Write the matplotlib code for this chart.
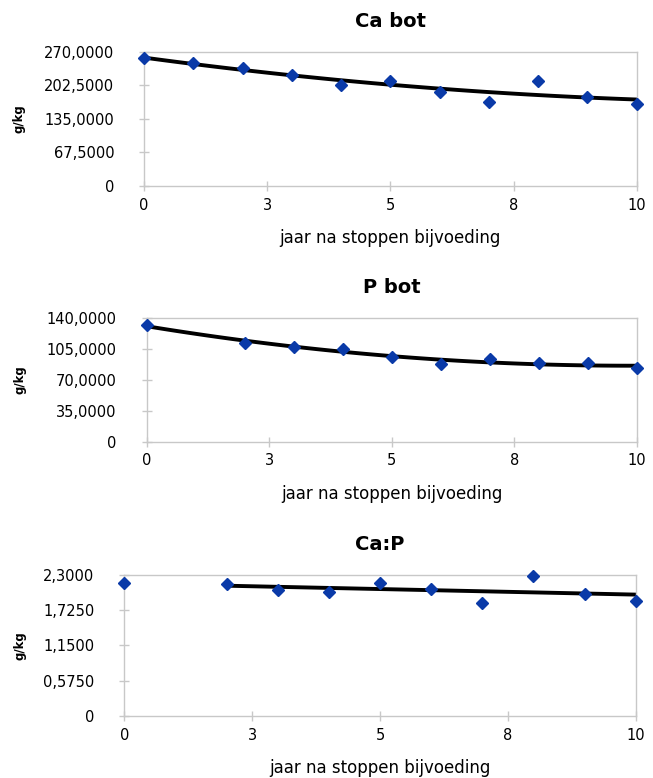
import numpy as np
import matplotlib
matplotlib.use('Agg')
import matplotlib.pyplot as plt

plt.rcParams['font.family'] = ['DejaVu Sans']

# jaren na stoppen bijvoeding
jaar_ca = [0, 1, 2, 3, 4, 5, 6, 7, 8, 9, 10]
ca_bot = [257.3, 247.0, 238.3, 223.6, 203.4, 212.0, 190.0, 169.6, 212.0, 179.7, 165.0]

jaar_p = [0, 2, 3, 4, 5, 6, 7, 8, 9, 10]
p_bot = [132.4, 112.3, 107.1, 104.8, 96.4, 88.2, 93.8, 88.9, 88.9, 83.3]

jaar_cap = [0, 2, 3, 4, 5, 6, 7, 8, 9, 10]
ca_p = [2.170, 2.149, 2.046, 2.018, 2.170, 2.072, 1.844, 2.279, 1.981, 1.877]

x_ticks = [0, 2.5, 5, 7.5, 10]
x_ticklabels = ['0', '3', '5', '8', '10']

ca_yticks = [0, 67.5, 135, 202.5, 270]
ca_yticklabels = ['0', '67,5000', '135,0000', '202,5000', '270,0000']
p_yticks = [0, 35, 70, 105, 140]
p_yticklabels = ['0', '35,0000', '70,0000', '105,0000', '140,0000']
cap_yticks = [0, 0.575, 1.15, 1.725, 2.3]
cap_yticklabels = ['0', '0,5750', '1,1500', '1,7250', '2,3000']

BLAUW = '#0a3aa8'
GRIJS = '#c8c8c8'


def opmaak(ax, titel, yticks, yticklabels, ylab_x):
    ax.set_xlim(0, 10)
    ax.set_ylim(yticks[0], yticks[-1])
    ax.set_xticks(x_ticks)
    ax.set_xticklabels(x_ticklabels)
    ax.set_yticks(yticks)
    ax.set_yticklabels(yticklabels)
    for s in ax.spines.values():
        s.set_color(GRIJS)
        s.set_linewidth(1.0)
    ax.tick_params(direction='inout', length=7, width=1.0, color=GRIJS,
                   labelsize=10.5, labelcolor='black')
    ax.tick_params(axis='y', pad=18)
    ax.tick_params(axis='x', pad=5)
    ax.set_title(titel, fontsize=14, fontweight='bold', pad=18)
    ax.set_ylabel('g/kg', fontsize=8.5, fontweight='bold')
    ax.yaxis.set_label_coords(ylab_x, 0.5)
    ax.set_xlabel('jaar na stoppen bijvoeding', fontsize=12, labelpad=12)


def trend(ax, x, y, graad, x0, x1):
    c = np.polyfit(x, y, graad)
    xs = np.linspace(x0, x1, 100)
    ax.plot(xs, np.polyval(c, xs), color='black', lw=2.8, zorder=2)


fig = plt.figure(figsize=(6.53, 7.78), dpi=100)

ax1 = fig.add_axes([0.2205, 0.7613, 0.7545, 0.1719])
trend(ax1, jaar_ca, ca_bot, 2, 0, 10)
ax1.plot(jaar_ca, ca_bot, 'D', color=BLAUW, ms=6, zorder=3, clip_on=False)
opmaak(ax1, 'Ca bot', ca_yticks, ca_yticklabels, -0.2395)

ax2 = fig.add_axes([0.2247, 0.4323, 0.7504, 0.1586])
trend(ax2, jaar_p, p_bot, 2, 0, 10)
ax2.plot(jaar_p, p_bot, 'D', color=BLAUW, ms=6, zorder=3, clip_on=False)
opmaak(ax2, 'P bot', p_yticks, p_yticklabels, -0.2463)

ax3 = fig.add_axes([0.1904, 0.0797, 0.7832, 0.1816])
trend(ax3, jaar_cap[1:], ca_p[1:], 1, 2, 10)
ax3.plot(jaar_cap, ca_p, 'D', color=BLAUW, ms=6, zorder=3, clip_on=False)
opmaak(ax3, 'Ca:P', cap_yticks, cap_yticklabels, -0.1922)

fig.savefig('out.png', dpi=100)
